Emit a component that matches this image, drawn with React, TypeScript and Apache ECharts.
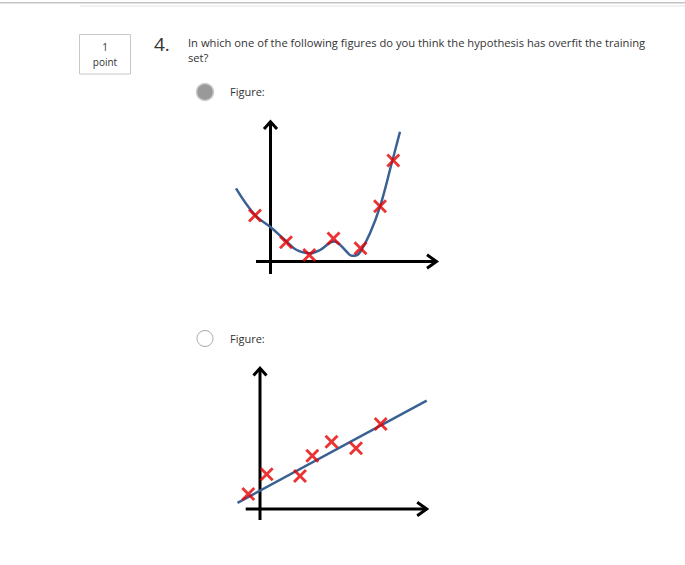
import React, { useEffect, useRef } from 'react';
import * as echarts from 'echarts';

// ---------- Figure 1 (overfit) ----------
const overfitPointsX = [-1.55, 1.55, 3.88, 6.3, 9.0, 10.95, 12.28];
const overfitPointsY = [4.6, 1.92, 0.65, 2.3, 1.32, 5.52, 10.1];
const overfitCurveX = [-3.45, -1.55, 0.02, 1.45, 2.62, 3.95, 4.95, 5.95, 6.4, 6.95, 7.6, 8.12, 8.55, 9.0, 9.95, 10.95, 12.12, 12.95];
const overfitCurveY = [7.32, 4.65, 3.42, 2.15, 1.15, 0.82, 1.15, 1.88, 2.0, 1.68, 1.0, 0.58, 0.6, 1.0, 2.82, 5.48, 9.82, 12.98];

// ---------- Figure 2 (linear fit) ----------
const linearPointsX = [-1.17, 0.67, 4.0, 5.23, 7.15, 9.6, 12.07];
const linearPointsY = [1.5, 3.47, 3.3, 5.33, 6.73, 6.07, 8.5];
const linearFitX = [-2.25, 16.67];
const linearFitY = [0.62, 10.83];

// ---------- Texts ----------
const questionNumber = '4.';
const questionLines = [
  'In which one of the following figures do you think the hypothesis has overfit the training',
  'set?',
];
const pointsValue = '1';
const pointsLabel = 'point';
const optionLabel = 'Figure:';

const zip = (xs: number[], ys: number[]) => xs.map((x, i) => [x, ys[i]]);

const FONT = '"Open Sans", "DejaVu Sans", sans-serif';
const TEXT = '#333333';
const BLUE = '#3a6193';
const RED = '#e60000';
const XPATH =
  'path://M0,1.45 L1.45,0 L5,3.55 L8.55,0 L10,1.45 L6.45,5 L10,8.55 L8.55,10 L5,6.45 L1.45,10 L0,8.55 L3.55,5 Z';

function axisSeries(idx: number, vBottom: number, vTop: number, hLeft: number, hRight: number) {
  const base = {
    type: 'line',
    xAxisIndex: idx,
    yAxisIndex: idx,
    symbol: 'none',
    silent: true,
    lineStyle: { color: '#000', width: 3, cap: 'butt', join: 'miter' },
    z: 2,
  };
  return [
    { ...base, data: [[0, vBottom], [0, vTop]] },
    { ...base, data: [[hLeft, 0], [hRight, 0]] },
    { ...base, data: [[-0.65, vTop - 0.72], [0, vTop], [0.65, vTop - 0.72]] },
    { ...base, data: [[hRight - 0.95, 0.67], [hRight, 0], [hRight - 0.95, -0.67]] },
  ];
}

export default function App() {
  const ref = useRef<HTMLDivElement>(null);
  useEffect(() => {
    const chart = echarts.init(ref.current!, null, { renderer: 'svg' });
    const option: any = {
      animation: false,
      backgroundColor: '#ffffff',
      grid: [
        { left: 220.5, top: 111.5, width: 220, height: 170 },
        { left: 210, top: 359, width: 220, height: 170 },
      ],
      xAxis: [
        { gridIndex: 0, type: 'value', min: -5, max: 17, show: false },
        { gridIndex: 1, type: 'value', min: -5, max: 17, show: false },
      ],
      yAxis: [
        { gridIndex: 0, type: 'value', min: -2, max: 15, show: false },
        { gridIndex: 1, type: 'value', min: -2, max: 15, show: false },
      ],
      series: [
        ...axisSeries(0, -1.25, 13.98, -1.45, 16.6),
        {
          type: 'line',
          xAxisIndex: 0,
          yAxisIndex: 0,
          data: zip(overfitCurveX, overfitCurveY),
          symbol: 'none',
          smooth: 0.4,
          lineStyle: { color: BLUE, width: 2.5 },
          z: 3,
        },
        {
          type: 'scatter',
          xAxisIndex: 0,
          yAxisIndex: 0,
          data: zip(overfitPointsX, overfitPointsY),
          symbol: XPATH,
          symbolSize: 14,
          itemStyle: { color: RED },
          z: 4,
        },
        ...axisSeries(1, -1.1, 14.07, -1.43, 16.67),
        {
          type: 'line',
          xAxisIndex: 1,
          yAxisIndex: 1,
          data: zip(linearFitX, linearFitY),
          symbol: 'none',
          lineStyle: { color: BLUE, width: 2.5 },
          z: 3,
        },
        {
          type: 'scatter',
          xAxisIndex: 1,
          yAxisIndex: 1,
          data: zip(linearPointsX, linearPointsY),
          symbol: XPATH,
          symbolSize: 14,
          itemStyle: { color: RED },
          z: 4,
        },
      ],
      graphic: [
        { type: 'rect', shape: { x: 0, y: 2, width: 685, height: 1.5 }, style: { fill: '#c4c4c4' } },
        { type: 'rect', shape: { x: 80, y: 5.5, width: 605, height: 1 }, style: { fill: '#e4e4e4' } },
        {
          type: 'rect',
          shape: { x: 79.5, y: 34.5, width: 51, height: 39.5 },
          style: { fill: '#fff', stroke: '#c8c8c8', lineWidth: 1 },
        },
        {
          type: 'text', x: 105, y: 46.5,
          style: { text: pointsValue, font: `10px ${FONT}`, fill: TEXT, textAlign: 'center', textVerticalAlign: 'middle' },
        },
        {
          type: 'text', x: 105, y: 62,
          style: { text: pointsLabel, font: `10px ${FONT}`, fill: TEXT, textAlign: 'center', textVerticalAlign: 'middle' },
        },
        {
          type: 'text', x: 154, y: 43.5,
          style: { text: questionNumber, font: `19px ${FONT}`, fill: TEXT, textAlign: 'left', textVerticalAlign: 'middle' },
        },
        {
          type: 'text', x: 188, y: 42.5,
          style: { text: questionLines[0], font: `11.2px ${FONT}`, fill: TEXT, textAlign: 'left', textVerticalAlign: 'middle' },
        },
        {
          type: 'text', x: 188, y: 57.5,
          style: { text: questionLines[1], font: `11.2px ${FONT}`, fill: TEXT, textAlign: 'left', textVerticalAlign: 'middle' },
        },
        { type: 'circle', shape: { cx: 205, cy: 92, r: 8.5 }, style: { fill: '#999999', stroke: '#cfcfcf', lineWidth: 1.5 } },
        {
          type: 'text', x: 230, y: 91.5,
          style: { text: optionLabel, font: `11px ${FONT}`, fill: TEXT, textAlign: 'left', textVerticalAlign: 'middle' },
        },
        { type: 'circle', shape: { cx: 205, cy: 338.5, r: 8 }, style: { fill: '#ffffff', stroke: '#a8a8a8', lineWidth: 1 } },
        {
          type: 'text', x: 230, y: 338.5,
          style: { text: optionLabel, font: `11px ${FONT}`, fill: TEXT, textAlign: 'left', textVerticalAlign: 'middle' },
        },
      ],
    };
    chart.setOption(option);
    return () => chart.dispose();
  }, []);
  return (
    <div
      ref={ref}
      style={{ position: 'fixed', left: 0, top: 0, width: 685, height: 565, background: '#fff' }}
    />
  );
}
